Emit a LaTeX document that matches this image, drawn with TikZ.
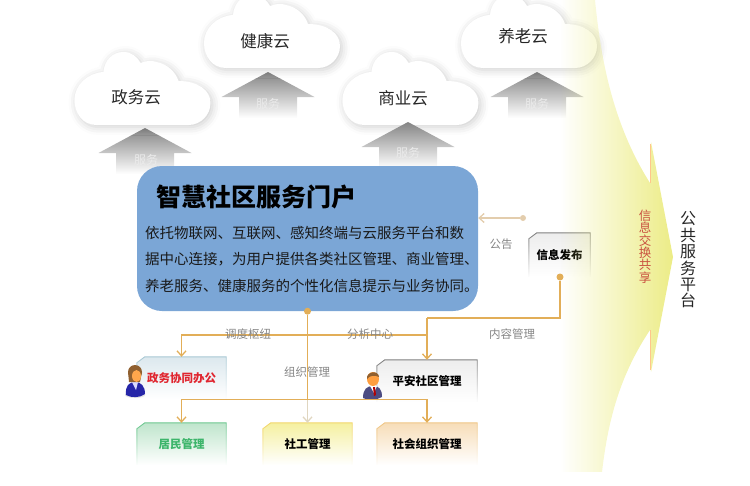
\documentclass[tikz,border=0pt]{standalone}
\usepackage{fontspec}
\setmainfont{Noto Sans CJK SC}
\usepackage{xcolor}
\usepackage{tikz}
\usetikzlibrary{calc,fadings,backgrounds,arrows.meta,shadows.blur}
\definecolor{portalblue}{HTML}{7BA6D6}
\definecolor{linkorange}{HTML}{E2AE58}
\definecolor{linktan}{HTML}{E0D6C0}
\definecolor{labelgray}{HTML}{858585}
\definecolor{glowyellow}{HTML}{ECEC86}
\definecolor{officetop}{HTML}{DCE8EE}
\definecolor{officeedge}{HTML}{A8C8D4}
\definecolor{officetext}{HTML}{E0252F}
\definecolor{residenttop}{HTML}{BFE5CC}
\definecolor{residentedge}{HTML}{6CC78F}
\definecolor{residenttext}{HTML}{3DB56B}
\definecolor{socialtop}{HTML}{F5F0A0}
\definecolor{socialedge}{HTML}{F2D66A}
\definecolor{orgtop}{HTML}{F7DDB8}
\definecolor{orgedge}{HTML}{EFC685}
\definecolor{plaintop}{HTML}{EDEDED}
\definecolor{plainedge}{HTML}{808080}
\definecolor{sharered}{HTML}{C9503F}
\tikzset{
	cloudpic/.pic={
			\path[fill=white, blur shadow={shadow xshift=2pt, shadow yshift=-2pt, shadow blur radius=8pt, shadow opacity=20}]
			(-46,0) .. controls (-60,0) and (-68,-12) .. (-68,-25)
			.. controls (-68,-40) and (-55,-52) .. (-39,-53)
			.. controls (-38,-65) and (-30,-73) .. (-19,-73)
			.. controls (-11,-73) and (-5,-68) .. (-2,-62)
			.. controls (3,-64) and (9,-65) .. (14,-63)
			.. controls (25,-61) and (33,-53) .. (36,-44)
			.. controls (55,-44) and (68,-35) .. (68,-22)
			.. controls (68,-10) and (58,0) .. (46,0) -- cycle;
		},
	uppic/.pic={
			\shade[top color=black!48, bottom color=white]
			(0,0) -- (46.5,25) -- (29,25) -- (29,46) -- (-29,46) -- (-29,25) -- (-46.5,25) -- cycle;
		},
	ladypic/.pic={
			\fill[black!10] (0,15) ellipse (10 and 3);
			\fill[blue!60!black!85] (-9,15) .. controls (-10,6) and (-6,2) .. (0,2) .. controls (6,2) and (10,6) .. (10,14) .. controls (5,18) and (-4,18) .. (-9,15) -- cycle;
			\fill[white!85!blue] (-3,2) -- (3,2) -- (1,10) -- cycle;
			\fill[black!25!brown] (0,-8) circle (7);
			\fill[black!25!brown] (-7,-8) -- (7,-8) -- (5,2) -- (-6,2) -- cycle;
			\fill[orange!70!white] (1.5,-4) ellipse (4.5 and 6);
		},
	manpic/.pic={
			\fill[black!70!blue!70] (-10,15) .. controls (-10,6) and (-6,3) .. (0,3) .. controls (6,3) and (9,6) .. (9,14) .. controls (4,17) and (-5,18) .. (-10,15) -- cycle;
			\fill[white] (-3,3) -- (4,3) -- (1,10) -- cycle;
			\fill[red!70!black] (0,4) -- (2,4) -- (3,12) -- (1,13) -- cycle;
			\fill[orange!75!white] (0,-4) ellipse (6 and 7);
			\fill[black!25!brown] (-6,-4) .. controls (-7,-12) and (6,-13) .. (6,-6) .. controls (2,-8) and (-3,-8) .. (-6,-4) -- cycle;
		},
	cutbox/.style={
			rectangle, inner sep=0pt, minimum height=42pt,
			font=\fontsize{11.5}{14}\selectfont\bfseries
		},
	boxedge/.style={line width=0.9pt, path fading=south},
	cloudtext/.style={font=\fontsize{16.5}{18}\selectfont, text=black!85},
	servetext/.style={font=\fontsize{12}{14}\selectfont, text=black!8},
	linktext/.style={font=\fontsize{11.5}{14}\selectfont, text=labelgray},
	dotnode/.style={circle, fill=linkorange, inner sep=0pt, minimum size=7pt},
	link/.style={draw=linkorange, line width=1.3pt},
	linkdown/.style={link, -{Straight Barb[length=5pt,width=9pt]}}
}

\begin{document}
\begin{tikzpicture}[x=1pt, y=-1pt]
	\useasboundingbox (0,0) rectangle (750,485);

	\pic at (145,128) {uppic};
	\pic at (268,72) {uppic};
	\pic at (537,72) {uppic};
	\node[servetext] (serve1) at (146,160) {服务};
	\node[servetext] (serve2) at (268,104) {服务};
	\node[servetext] (serve4) at (537,104) {服务};

	\pic at (142.5,125) {cloudpic};
	\pic at (272,68) {cloudpic};
	\pic at (410.5,125) {cloudpic};
	\pic at (529,68) {cloudpic};
	\node[cloudtext] (gov) at (136,97) {政务云};
	\node[cloudtext] (health) at (265,41) {健康云};
	\node[cloudtext] (biz) at (403,98) {商业云};
	\node[cloudtext] (elder) at (523,36) {养老云};

	\pic at (408,122) {uppic};
	\node[servetext] (serve3) at (408,153) {服务};

	\node[rectangle, rounded corners=25pt, fill=portalblue, minimum width=341pt, minimum height=145pt, inner sep=0pt] (portal) at (307.5,238.5) {};
	\node[anchor=west, inner sep=0pt, font=\fontsize{25}{28}\selectfont\bfseries] (title) at (156,197) {智慧社区服务门户};
	\node[anchor=north west, inner sep=0pt, align=left, text=black!90, font=\fontsize{14.5}{26.5}\selectfont] (intro) at (145,226) {依托物联网、互联网、感知终端与云服务平台和数\\据中心连接，为用户提供各类社区管理、商业管理、\\养老服务、健康服务的个性化信息提示与业务协同。};

	\node[cutbox, minimum width=89pt, text=officetext] (office) at (181.5,378) {政务协同办公};
	\node[cutbox, minimum width=100pt] (safe) at (427,381) {平安社区管理};
	\node[cutbox, minimum width=61pt, minimum height=44pt] (notice) at (559.5,255) {信息发布};
	\node[cutbox, minimum width=89pt, text=residenttext] (resident) at (181.5,444) {居民管理};
	\node[cutbox, minimum width=89pt] (social) at (307.5,444) {社工管理};
	\node[cutbox, minimum width=100pt] (org) at (427,444) {社会组织管理};
	\begin{scope}[on background layer]
		\foreach \boxname/\boxtop/\boxline in {office/officetop/officeedge, safe/plaintop/plainedge, notice/plaintop/plainedge, resident/residenttop/residentedge, social/socialtop/socialedge, org/orgtop/orgedge}{
			\shade[top color=\boxtop, bottom color=white] (\boxname.south west) -- ($(\boxname.north west)+(0,6)$) -- ($(\boxname.north west)+(8,0)$) -- (\boxname.north east) -- (\boxname.south east) -- cycle;
			\draw[boxedge, \boxline] (\boxname.south west) -- ($(\boxname.north west)+(0,6)$) -- ($(\boxname.north west)+(8,0)$) -- (\boxname.north east) -- (\boxname.south east);
		}
	\end{scope}

	\pic at (135,380) {ladypic};
	\pic at (373,383) {manpic};

	\node[dotnode] (portaldot) at (portal.south) {};
	\node[dotnode] (noticedot) at (560,277) {};
	\node[dotnode, fill=linktan!90!orange, minimum size=6pt] (bulletin) at (523,218) {};
	\coordinate (hubup) at (307.5,335);
	\coordinate (hubdown) at (307.5,399.5);
	\coordinate (hubright) at (427,318);

	\draw[linkdown] (hubup) -| (office.north);
	\draw[link] (hubup) -| (hubright);
	\draw[link] (noticedot) |- (hubright);
	\draw[linkdown] (hubright) -- (safe.north);
	\draw[linkdown] (hubdown) -| (resident.north);
	\draw[linkdown] (hubdown) -| (org.north);
	\draw[linkdown, draw=linktan] (hubdown) -- (social.north);
	\draw[link] (portaldot) -- (hubdown);
	\draw[linkdown, draw=linktan!90!orange] (bulletin) -- (portal.east |- bulletin);

	\node[linktext] (dispatch) at (248,334) {调度枢纽};
	\node[linktext] (analysis) at (370,334) {分析中心};
	\node[linktext] (organize) at (307,372) {组织管理};
	\node[linktext] (content) at (512,334) {内容管理};
	\node[linktext] (announce) at (501,244) {公告};

	\fill[glowyellow, path fading=west] (560,0) -- (595,0) .. controls (600,50) and (610,120) .. (650,183) -- (651,142) -- (673,257) -- (651,372) -- (650,330) .. controls (620,375) and (608,420) .. (602,472) -- (560,472) -- cycle;
	\draw[orange!45!white, line width=0.8pt] (650.5,183) -- (650.5,144);
	\draw[orange!45!white, line width=0.8pt] (650.5,330) -- (650.5,370);

	\node[inner sep=0pt, align=center, text=sharered, font=\fontsize{12.5}{12.4}\selectfont] (share) at (645,246.5) {信\\息\\交\\换\\共\\享};
	\node[inner sep=0pt, align=center, text=black!85, font=\fontsize{16}{16.4}\selectfont] (platform) at (688,260) {公\\共\\服\\务\\平\\台};
\end{tikzpicture}
\end{document}
